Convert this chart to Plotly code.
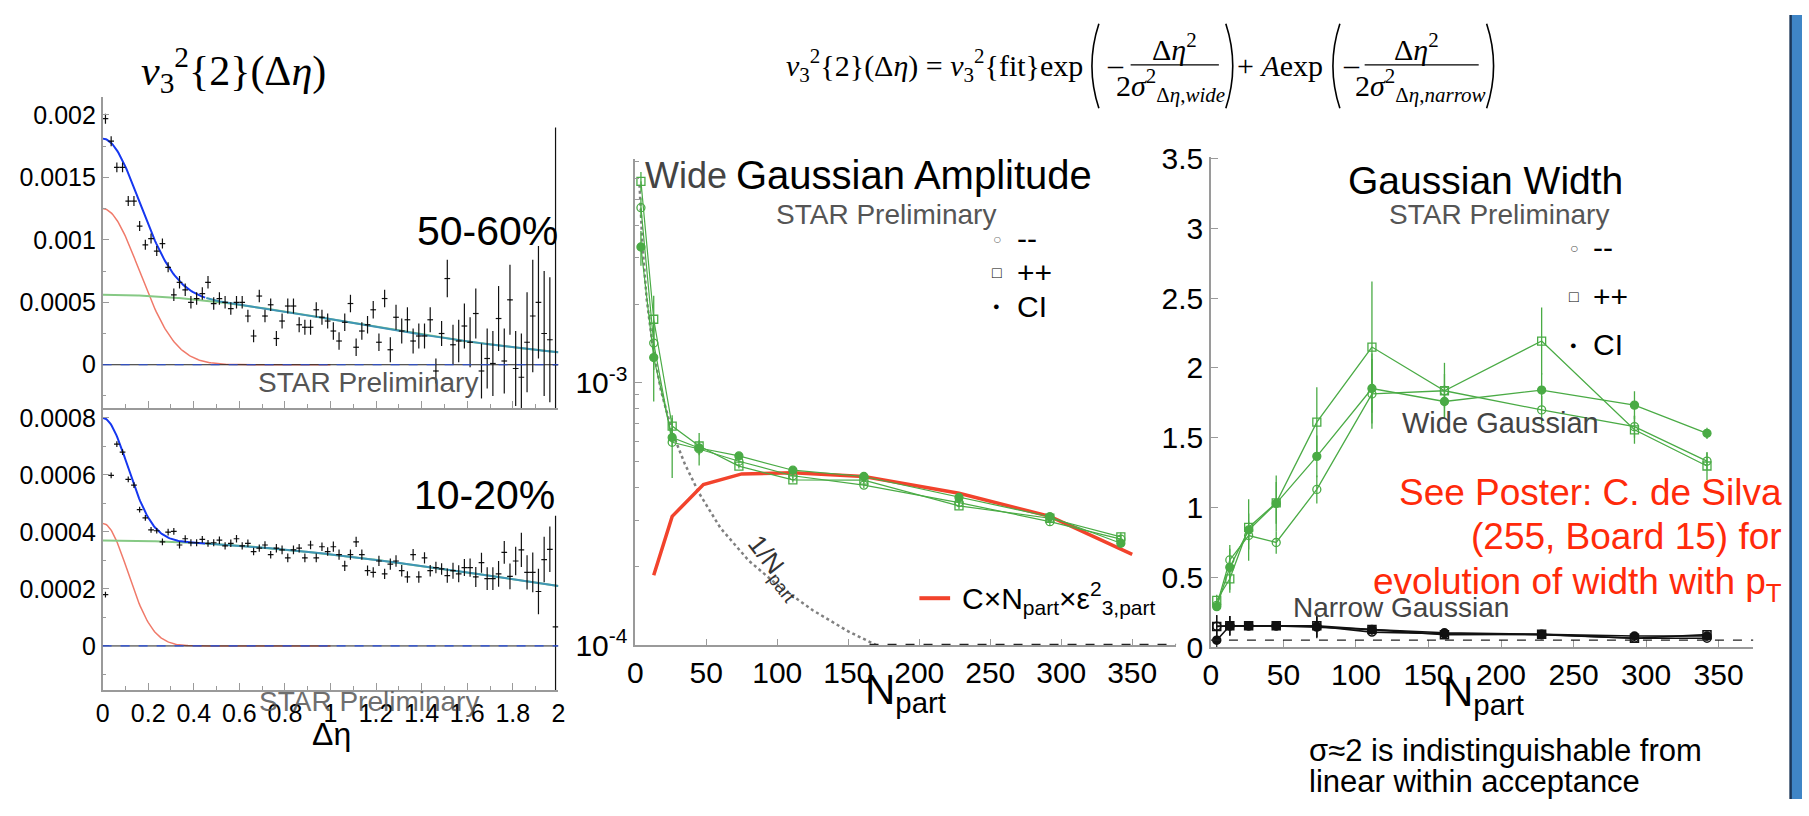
import numpy as np
import plotly.graph_objects as go

W, H = 1809, 816

# ------------------------------------------------------------------ data
# left panels: v3^2{2}(Δη), 80 bins of width 0.025 in Δη
deta_bins = np.round(0.0125 + 0.025 * np.arange(80), 4)

v32_5060 = [0.00197, 0.00179, 0.00158, 0.00158, 0.00131, 0.00131, 0.00111, 0.00096, 0.00101, 0.00091,
            0.00097, 0.00078, 0.00056, 0.00066, 0.00060, 0.00050, 0.00053, 0.00057, 0.00066, 0.00049,
            0.00053, 0.00050, 0.00045, 0.00050, 0.00050, 0.00039, 0.00023, 0.00055, 0.00039, 0.00048,
            0.00021, 0.00035, 0.00047, 0.00047, 0.00032, 0.00030, 0.00030, 0.00044, 0.00038, 0.00035,
            0.00027, 0.00019, 0.00034, 0.00049, 0.00014, 0.00027, 0.00032, 0.00044, 0.00018, 0.00053,
            0.00012, 0.00038, 0.00027, 0.00036, 0.00019, 0.00023, 0.00023, 0.00036, -0.00005, 0.00025,
            0.00069, 0.00016, 0.00019, 0.00031, 0.00018, 0.00041, -0.00005, 0.00005, 0.00001, 0.00037,
            0.00003, 0.00052, -0.00003, -0.00010, 0.00018, 0.00039, 0.00050, 0.00025, 0.00020, 0.00000]
v32_5060_err = [0.00004] * 12 + [0.00005] * 18 + [0.00006] * 10 + [0.00007] * 10 + [0.0001] * 10 + \
               [0.00015, 0.00016, 0.00017, 0.00018, 0.0002, 0.0002, 0.00022, 0.00024, 0.00026, 0.00026,
                0.00026, 0.00028, 0.0003, 0.00035, 0.0004, 0.00045, 0.00045, 0.0005, 0.0005, 0.0019]

v32_1020 = [0.000180, 0.000598, 0.000708, 0.000680, 0.000584, 0.000564, 0.000478, 0.000449, 0.000407, 0.000404,
            0.000365, 0.000399, 0.000402, 0.000354, 0.000376, 0.000362, 0.000362, 0.000374, 0.000360, 0.000362,
            0.000371, 0.000351, 0.000360, 0.000376, 0.000351, 0.000360, 0.000331, 0.000343, 0.000354, 0.000320,
            0.000343, 0.000337, 0.000309, 0.000337, 0.000343, 0.000309, 0.000354, 0.000309, 0.000348, 0.000331,
            0.000348, 0.000320, 0.000281, 0.000320, 0.000365, 0.000320, 0.000264, 0.000258, 0.000298, 0.000253,
            0.000287, 0.000298, 0.000264, 0.000242, 0.000320, 0.000242, 0.000309, 0.000264, 0.000275, 0.000270,
            0.000247, 0.000264, 0.000253, 0.000275, 0.000275, 0.000242, 0.000292, 0.000236, 0.000236, 0.000253,
            0.000328, 0.000244, 0.000298, 0.000337, 0.000258, 0.000258, 0.000191, 0.000303, 0.000339, 0.000067]
v32_1020_err = [0.00001] * 10 + [0.000012] * 10 + [0.000013] * 10 + [0.000015] * 10 + [0.000018] * 10 + \
               [0.00002] * 10 + \
               [0.000025, 0.000028, 0.00003, 0.00003, 0.000032, 0.000035, 0.000035, 0.00004, 0.00004, 0.000045,
                0.00004, 0.000045, 0.00005, 0.00006, 0.00006, 0.00007, 0.00008, 0.00008, 0.00008, 0.00039]

# fit parameters of the two-Gaussian model
fit_5060 = dict(wide_amp=0.00056, wide_sigma=1.08, narrow_amp=0.00125, narrow_sigma=0.16)
fit_1020 = dict(wide_amp=0.00037, wide_sigma=1.88, narrow_amp=0.00043, narrow_sigma=0.11)

# middle + right panels: vs N_part
npart = [4, 13, 26, 45, 73, 111, 161, 228, 292, 342]

amp_mm = [4.66e-3, 1.42e-3, 5.94e-4, 5.60e-4, 5.03e-4, 4.43e-4, 4.08e-4, 3.50e-4, 2.96e-4, 2.54e-4]
amp_pp = [5.87e-3, 1.75e-3, 6.85e-4, 5.75e-4, 4.82e-4, 4.27e-4, 4.26e-4, 3.40e-4, 3.05e-4, 2.59e-4]
amp_ci = [3.30e-3, 1.25e-3, 6.20e-4, 5.65e-4, 5.27e-4, 4.65e-4, 4.40e-4, 3.66e-4, 3.09e-4, 2.45e-4]
amp_mm_err = [4e-4, 3e-4, 1.6e-4, 3e-5, 1e-5, 1e-5, 1e-5, 1e-5, 1e-5, 1e-5]
amp_pp_err = [5e-4, 4e-4, 5e-5, 3e-5, 1e-5, 1e-5, 1e-5, 1e-5, 1e-5, 1e-5]
amp_ci_err = [5e-4, 4e-4, 5e-5, 8e-5, 1e-5, 1e-5, 1e-5, 1e-5, 1e-5, 1e-5]

ecc_npart = [13, 26, 48, 75, 111, 161, 228, 292, 350]
ecc_vals = [1.85e-4, 3.10e-4, 4.10e-4, 4.50e-4, 4.55e-4, 4.40e-4, 3.80e-4, 3.10e-4, 2.22e-4]

inv_npart_n = [3, 5, 8, 12, 18, 26, 35, 45, 60, 80, 100, 125, 150, 170]
inv_npart_v = [5.7e-3, 3.4e-3, 2.1e-3, 1.42e-3, 9.4e-4, 6.5e-4, 4.9e-4, 3.8e-4, 2.8e-4, 2.1e-4,
               1.7e-4, 1.36e-4, 1.13e-4, 1.0e-4]

wid_mm = [0.30, 0.625, 0.80, 0.75, 1.13, 1.814, 1.837, 1.70, 1.58, 1.333]
wid_pp = [0.336, 0.49, 0.858, 1.034, 1.612, 2.15, 1.837, 2.193, 1.557, 1.298]
wid_ci = [0.29, 0.572, 0.84, 1.03, 1.367, 1.853, 1.76, 1.842, 1.734, 1.532]
wid_mm_err = [0.03, 0.08, 0.10, 0.08, 0.10, 0.25, 0.12, 0.10, 0.08, 0.06]
wid_pp_err = [0.04, 0.10, 0.10, 0.15, 0.25, 0.47, 0.20, 0.24, 0.10, 0.10]
wid_ci_err = [0.03, 0.16, 0.22, 0.20, 0.15, 0.25, 0.12, 0.12, 0.10, 0.04]

nar_mm = [0.150, 0.153, 0.153, 0.153, 0.150, 0.108, 0.096, 0.090, 0.064, 0.064]
nar_pp = [0.149, 0.153, 0.153, 0.153, 0.153, 0.126, 0.090, 0.092, 0.064, 0.090]
nar_ci = [0.050, 0.153, 0.153, 0.153, 0.144, 0.126, 0.103, 0.092, 0.080, 0.080]
nar_err = [0.08, 0.07, 0.02, 0.02, 0.08, 0.02, 0.02, 0.02, 0.02, 0.02]

sigma_floor = 0.05

# ------------------------------------------------------------------ helpers
def dom_x(a, b):
    return [a / W, b / W]


def dom_y(top, bottom):
    return [1 - bottom / H, 1 - top / H]


def gauss(x, amp, sigma):
    return amp * np.exp(-x ** 2 / (2 * sigma ** 2))


GREEN = '#4aab45'
AX = '#9a9a9a'
SANS = 'Liberation Sans, Arial, sans-serif'
SERIF = 'Liberation Serif, Times New Roman, serif'

fig = go.Figure()

# ------------------------------------------------------------------ left panels
xfine = np.linspace(0, 2, 401)
xnar = np.linspace(0, 1, 201)
for fit, vals, errs, xa, ya in [(fit_5060, v32_5060, v32_5060_err, 'x', 'y'),
                                (fit_1020, v32_1020, v32_1020_err, 'x2', 'y2')]:
    wide = gauss(xfine, fit['wide_amp'], fit['wide_sigma'])
    total = wide + gauss(xfine, fit['narrow_amp'], fit['narrow_sigma'])
    fig.add_trace(go.Scatter(x=xnar, y=gauss(xnar, fit['narrow_amp'], fit['narrow_sigma']), mode='lines',
                             line=dict(color='#f07a6a', width=1.5), xaxis=xa, yaxis=ya, hoverinfo='skip'))
    fig.add_trace(go.Scatter(x=xfine, y=wide, mode='lines', line=dict(color='#86c985', width=2),
                             xaxis=xa, yaxis=ya, hoverinfo='skip'))
    cut = xfine <= 0.45
    fig.add_trace(go.Scatter(x=xfine[cut], y=total[cut], mode='lines', line=dict(color='#1537f0', width=2),
                             xaxis=xa, yaxis=ya, hoverinfo='skip'))
    fig.add_trace(go.Scatter(x=xfine[~cut], y=total[~cut], mode='lines', line=dict(color='#3f95b5', width=2),
                             xaxis=xa, yaxis=ya, hoverinfo='skip'))
    fig.add_trace(go.Scatter(x=deta_bins, y=vals, mode='markers', marker=dict(size=1, color='black'),
                             error_y=dict(type='data', array=errs, color='#111', thickness=1.2, width=0),
                             error_x=dict(type='constant', value=0.0125, color='#111', thickness=1.2, width=0),
                             xaxis=xa, yaxis=ya, cliponaxis=False))

# ------------------------------------------------------------------ middle panel
fig.add_trace(go.Scatter(x=inv_npart_n, y=inv_npart_v, mode='lines',
                         line=dict(color='#808080', width=2.5, dash='dot'), xaxis='x3', yaxis='y3'))
fig.add_trace(go.Scatter(x=ecc_npart, y=ecc_vals, mode='lines', line=dict(color='#f2432c', width=3.5),
                         xaxis='x3', yaxis='y3'))
for vals, errs, sym in [(amp_mm, amp_mm_err, 'circle-open'), (amp_pp, amp_pp_err, 'square-open'),
                        (amp_ci, amp_ci_err, 'circle')]:
    fig.add_trace(go.Scatter(x=npart, y=vals, mode='lines+markers',
                             line=dict(color=GREEN, width=1.2),
                             marker=dict(symbol=sym, size=8, color=GREEN, line=dict(color=GREEN, width=1.3)),
                             error_y=dict(type='data', array=errs, color=GREEN, thickness=1.3, width=0),
                             xaxis='x3', yaxis='y3'))

# ------------------------------------------------------------------ right panel
for vals, errs, sym in [(wid_mm, wid_mm_err, 'circle-open'), (wid_pp, wid_pp_err, 'square-open'),
                        (wid_ci, wid_ci_err, 'circle')]:
    fig.add_trace(go.Scatter(x=npart, y=vals, mode='lines+markers',
                             line=dict(color=GREEN, width=1.3),
                             marker=dict(symbol=sym, size=8, color=GREEN, line=dict(color=GREEN, width=1.3)),
                             error_y=dict(type='data', array=errs, color=GREEN, thickness=1.3, width=0),
                             xaxis='x4', yaxis='y4'))
for vals, sym in [(nar_mm, 'circle-open'), (nar_pp, 'square-open'), (nar_ci, 'circle')]:
    fig.add_trace(go.Scatter(x=npart, y=vals, mode='lines+markers',
                             line=dict(color='#111', width=1.6),
                             marker=dict(symbol=sym, size=8, color='#111', line=dict(color='#111', width=1.5)),
                             error_y=dict(type='data', array=nar_err, color='#111', thickness=1.2, width=0),
                             xaxis='x4', yaxis='y4', cliponaxis=False))

# ------------------------------------------------------------------ axes
common = dict(showline=True, linecolor=AX, linewidth=1.5, ticks='inside', tickcolor=AX, ticklen=7,
              tickwidth=1.2, showgrid=False, zeroline=False, fixedrange=True,
              tickfont=dict(family=SANS, size=25, color='black'))
big_ticks = dict(family=SANS, size=30, color='black')

xt_deta = [0, 0.2, 0.4, 0.6, 0.8, 1, 1.2, 1.4, 1.6, 1.8, 2]
xt_deta_text = ['0', '0.2', '0.4', '0.6', '0.8', '1', '1.2', '1.4', '1.6', '1.8', '2']
yt_top = [0, 0.0005, 0.001, 0.0015, 0.002]
yt_top_text = ['0', '0.0005', '0.001', '0.0015', '0.002']
yt_bot = [0, 0.0002, 0.0004, 0.0006, 0.0008]
yt_bot_text = ['0', '0.0002', '0.0004', '0.0006', '0.0008']
xt_np = [0, 50, 100, 150, 200, 250, 300, 350]
yt_amp = [1e-4, 1e-3]
yt_amp_text = ['10<sup>-4</sup>', '10<sup>-3</sup>']
yt_amp_minor = [2e-4, 3e-4, 4e-4, 5e-4, 6e-4, 7e-4, 8e-4, 9e-4, 2e-3, 3e-3, 4e-3, 5e-3, 6e-3, 7e-3]
yt_wid = [0, 0.5, 1, 1.5, 2, 2.5, 3, 3.5]
yt_wid_text = ['0', '0.5', '1', '1.5', '2', '2.5', '3', '3.5']

minor_small = dict(ticks='inside', ticklen=4, tickcolor=AX)

fig.update_layout(
    xaxis=dict(common, domain=dom_x(95.4, 555), range=[0, 2], anchor='y', tickvals=xt_deta,
               showticklabels=False, minor=dict(minor_small, dtick=0.1)),
    yaxis=dict(common, domain=dom_y(85, 409), range=[-0.000346, 0.002146], anchor='x',
               tickvals=yt_top, ticktext=yt_top_text, minor=dict(minor_small, dtick=0.00025)),
    xaxis2=dict(common, domain=dom_x(95.4, 555), range=[0, 2], anchor='y2', tickvals=xt_deta,
                ticktext=xt_deta_text, minor=dict(minor_small, dtick=0.1)),
    yaxis2=dict(common, domain=dom_y(411, 702.7), range=[-0.000155, 0.000828], anchor='x2',
                tickvals=yt_bot, ticktext=yt_bot_text, minor=dict(minor_small, dtick=0.0001)),
    xaxis3=dict(common, domain=dom_x(632.5, 1178), range=[0, 381], anchor='y3', tickvals=xt_np,
                tickfont=big_ticks),
    yaxis3=dict(common, type='log', domain=dom_y(150, 656), range=[-4, -2.1465], anchor='x3',
                tickvals=yt_amp, ticktext=yt_amp_text, tickfont=big_ticks,
                minor=dict(minor_small, tickmode='array', tickvals=yt_amp_minor)),
    xaxis4=dict(common, domain=dom_x(1213, 1760), range=[0, 374], anchor='y4', tickvals=xt_np,
                tickfont=big_ticks),
    yaxis4=dict(common, domain=dom_y(148, 658), range=[0, 3.51], anchor='x4', tickvals=yt_wid,
                ticktext=yt_wid_text, tickfont=big_ticks),
    width=W, height=H, margin=dict(l=0, r=0, t=0, b=0), showlegend=False,
    paper_bgcolor='white', plot_bgcolor='white',
)


# ------------------------------------------------------------------ annotations
def txt(t, x, y, size, color='black', xanchor='center', family=SANS, angle=0, opacity=1.0):
    return dict(text=t, x=x / W, y=1 - y / H, xref='paper', yref='paper', showarrow=False,
                font=dict(size=size, color=color, family=family), xanchor=xanchor, yanchor='middle',
                textangle=angle, opacity=opacity)


GRAY = '#555555'
RED = '#ff2a0a'
anns = [
    # left
    txt('<i>v</i><sub>3</sub><sup>2</sup>{2}(Δ<i>η</i>)', 227, 57, 42, family=SERIF),
    txt('50-60%', 484, 225, 41),
    txt('10-20%', 480, 500, 41),
    txt('STAR Preliminary', 363, 383, 28, GRAY),
    txt('STAR Preliminary', 364, 715, 28, GRAY, opacity=0.85),
    txt('Δη', 326, 748, 32),
    # formula header
    txt('<i>v</i><sub>3</sub><sup>2</sup>{2}(Δ<i>η</i>) = <i>v</i><sub>3</sub><sup>2</sup>{fit}exp', 1086, 53, 30,
        family=SERIF, xanchor='right'),
    txt('–', 1117, 51, 30, family=SERIF),
    txt('Δ<i>η</i><sup>2</sup>', 1176, 33, 30, family=SERIF),
    txt('2<i>σ</i><sup>2</sup><sub>Δ<i>η</i>,<i>wide</i></sub>', 1172, 73, 30, family=SERIF),
    txt('+ <i>A</i>exp', 1283, 53, 30, family=SERIF),
    txt('–', 1355, 51, 30, family=SERIF),
    txt('Δ<i>η</i><sup>2</sup>', 1420, 33, 30, family=SERIF),
    txt('2<i>σ</i><sup>2</sup><sub>Δ<i>η</i>,<i>narrow</i></sub>', 1424, 73, 30, family=SERIF),
    # middle
    txt('Wide', 640, 167, 36, '#444444', xanchor='left'),
    txt('Gaussian Amplitude', 732, 167, 40, xanchor='left'),
    txt('STAR Preliminary', 885, 208, 28, GRAY),
    txt('○', 997, 233, 14, '#777777'),
    txt('--', 1015, 233, 30, xanchor='left'),
    txt('□', 997, 268, 16),
    txt('++', 1015, 268, 30, xanchor='left'),
    txt('●', 997, 303, 11),
    txt('CI', 1015, 303, 30, xanchor='left'),
    txt('C×N<sub>part</sub>×ε<sup>2</sup><sub>3,part</sub>', 960, 607, 30, xanchor='left'),
    txt('1/N<sub>part</sub>', 773, 575, 26, '#333333', angle=52),
    txt('N<sub>part</sub>', 905, 705, 42),
    # right
    txt('Gaussian Width', 1490, 172, 39),
    txt('STAR Preliminary', 1503, 208, 28, GRAY),
    txt('○', 1579, 242, 14, '#555555'),
    txt('--', 1596, 242, 30, xanchor='left'),
    txt('□', 1579, 293, 16),
    txt('++', 1596, 293, 30, xanchor='left'),
    txt('●', 1579, 343, 11),
    txt('CI', 1596, 343, 30, xanchor='left'),
    txt('Wide Gaussian', 1505, 425, 29, '#444444'),
    txt('Narrow Gaussian', 1405, 617, 28, '#444444'),
    txt('See Poster: C. de Silva', 1791, 497, 37, RED, xanchor='right'),
    txt('(255, Board 15) for', 1791, 543, 37, RED, xanchor='right'),
    txt('evolution of width with p<sub>T</sub>', 1791, 592, 37, RED, xanchor='right'),
    txt('N<sub>part</sub>', 1488, 707, 42),
    txt('σ≈2 is indistinguishable from', 1310, 765, 31, xanchor='left'),
    txt('linear within acceptance', 1310, 798, 31, xanchor='left'),
]
fig.update_layout(annotations=anns)


# ------------------------------------------------------------------ shapes
def P(x, y):
    return f'{x / W:.5f},{1 - y / H:.5f}'


def paren(x, top, bottom, left=True, bulge=14):
    mid = (top + bottom) / 2
    c = x - bulge if left else x + bulge
    return dict(type='path', xref='paper', yref='paper',
                path=f'M {P(x, top)} Q {P(c, mid)} {P(x, bottom)}', line=dict(color='black', width=1.6))


def hline_px(x0, x1, y, color='black', width=1.2, dash='solid'):
    return dict(type='line', xref='paper', yref='paper', x0=x0 / W, x1=x1 / W, y0=1 - y / H, y1=1 - y / H,
                line=dict(color=color, width=width, dash=dash))


shapes = [
    paren(1100, 9, 97, True), paren(1228, 9, 97, False),
    paren(1343, 9, 97, True), paren(1491, 9, 97, False),
    hline_px(1132, 1221, 52), hline_px(1368, 1483, 52),
    # zero lines of left panels
    dict(type='line', xref='x', yref='y', x0=0, x1=2, y0=0, y1=0, line=dict(color='#222', width=1)),
    dict(type='line', xref='x', yref='y', x0=0, x1=2, y0=0, y1=0, line=dict(color='#2a50e0', width=1.2, dash='dash')),
    dict(type='line', xref='x2', yref='y2', x0=0, x1=2, y0=0, y1=0, line=dict(color='#222', width=1)),
    dict(type='line', xref='x2', yref='y2', x0=0, x1=2, y0=0, y1=0, line=dict(color='#2a50e0', width=1.2, dash='dash')),
    # dashed floor in middle panel
    dict(type='line', xref='x3', yref='paper', x0=165, x1=381, y0=1 - 655 / H, y1=1 - 655 / H,
         line=dict(color='#222', width=1.2, dash='dash')),
    # sigma floor in right panel
    dict(type='line', xref='x4', yref='y4', x0=0, x1=374, y0=sigma_floor, y1=sigma_floor,
         line=dict(color='#222', width=1.2, dash='dash')),
    # red legend sample
    hline_px(919, 950, 607, '#f2432c', 4),
    # slide edge stripe
    dict(type='rect', xref='paper', yref='paper', x0=1797 / W, x1=1, y0=0, y1=1,
         fillcolor='#3f85c6', line=dict(width=0)),
    dict(type='line', xref='paper', yref='paper', x0=1797.5 / W, x1=1797.5 / W, y0=0, y1=1,
         line=dict(color='#1b3658', width=2.5)),
]
fig.update_layout(shapes=shapes)

fig.write_html('out.html')
